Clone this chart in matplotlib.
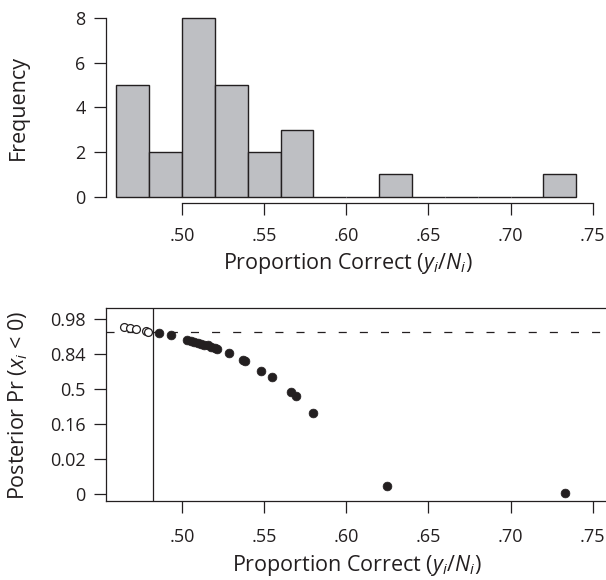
import numpy as np
import matplotlib
matplotlib.use("Agg")
import matplotlib.pyplot as plt
from matplotlib.ticker import NullLocator, FixedLocator
from statistics import NormalDist

# ---------------- data ----------------
proportion = [0.4644, 0.4684, 0.4721, 0.4782, 0.4792, 0.4861, 0.4932,
              0.5028, 0.5052, 0.5072, 0.5095, 0.5115, 0.5135, 0.5155, 0.5178,
              0.5203, 0.5210, 0.5287, 0.5371, 0.5385,
              0.5482, 0.5550, 0.5665, 0.5693, 0.5797, 0.6248, 0.7329]
posterior = [0.9633, 0.9591, 0.9573, 0.9525, 0.9505, 0.9474, 0.9382,
             0.9222, 0.9162, 0.9131, 0.9082, 0.9032, 0.8980, 0.8944, 0.8869,
             0.8790, 0.8749, 0.8485, 0.7995, 0.7881,
             0.6950, 0.6331, 0.4681, 0.4247, 0.2451, 0.00272, 0.00139]
bin_edges = [0.46, 0.48, 0.50, 0.52, 0.54, 0.56, 0.58, 0.60,
             0.62, 0.64, 0.66, 0.68, 0.70, 0.72, 0.74]
x_ticks = [0.50, 0.55, 0.60, 0.65, 0.70, 0.75]
x_ticklabels = [".50", ".55", ".60", ".65", ".70", ".75"]
freq_ticks = [0, 2, 4, 6, 8]
post_ticks = [0.00135, 0.02275, 0.15866, 0.5, 0.84134, 0.97725]
post_ticklabels = ["0", "0.02", "0.16", "0.5", "0.84", "0.98"]
criterion = 0.95
cutoff_x = 0.4825

# ---------------- style ----------------
plt.rcParams["font.family"] = ["Open Sans", "DejaVu Sans"]
plt.rcParams["mathtext.fontset"] = "custom"
plt.rcParams["mathtext.rm"] = "Open Sans"
plt.rcParams["mathtext.it"] = "Open Sans:italic"
plt.rcParams["lines.scale_dashes"] = False
INK = "#231f20"
FS = 13
LFS = 15.5

_nd = NormalDist()


def probit(p):
    p = np.clip(np.asarray(p, dtype=float), 1e-15, 1 - 1e-15)
    if p.size == 0:
        return p
    return np.vectorize(_nd.inv_cdf, otypes=[float])(p)


def inv_probit(z):
    z = np.asarray(z, dtype=float)
    if z.size == 0:
        return z
    return np.vectorize(_nd.cdf, otypes=[float])(z)


W, H = 606, 580
fig = plt.figure(figsize=(W / 100, H / 100), dpi=100)


def rect(l, t, r, b):
    return [l / W, 1 - b / H, (r - l) / W, (b - t) / H]


# ---------------- top: histogram ----------------
ax1 = fig.add_axes(rect(106, 10, 606, 203))
ax1.hist(proportion, bins=bin_edges, color="#bebfc3", edgecolor=INK, linewidth=1.0)
ax1.set_xlim(0.4537, 0.7581)
ax1.set_ylim(-0.283, 8.372)
for s in ("top", "right"):
    ax1.spines[s].set_visible(False)
ax1.spines["left"].set_bounds(0, 8)
ax1.spines["bottom"].set_bounds(0.50, 0.75)
for s in ("left", "bottom"):
    ax1.spines[s].set_color(INK)
    ax1.spines[s].set_linewidth(0.9)
ax1.set_xticks(x_ticks)
ax1.set_xticklabels(x_ticklabels)
ax1.set_yticks(freq_ticks)
ax1.tick_params(axis="both", direction="out", length=8.6, width=0.9, color=INK,
                labelsize=FS, labelcolor=INK)
ax1.tick_params(axis="x", pad=9)
ax1.tick_params(axis="y", pad=6)

# ---------------- bottom: posterior ----------------
ax2 = fig.add_axes(rect(106, 308.3, 606, 500.5))
ax2.set_yscale("function", functions=(probit, inv_probit))
ax2.set_xlim(0.4537, 0.7581)
ax2.set_ylim(float(inv_probit(-3.195)), float(inv_probit(2.315)))
ax2.yaxis.set_major_locator(FixedLocator(post_ticks))
ax2.yaxis.set_minor_locator(NullLocator())
ax2.set_yticklabels(post_ticklabels)
ax2.set_xticks(x_ticks)
ax2.set_xticklabels(x_ticklabels)
ax2.spines["right"].set_visible(False)
for s in ("top", "left", "bottom"):
    ax2.spines[s].set_color(INK)
    ax2.spines[s].set_linewidth(0.9)
ax2.tick_params(axis="both", direction="out", length=8.6, width=0.9, color=INK,
                labelsize=FS, labelcolor=INK)
ax2.tick_params(axis="x", pad=11)
ax2.tick_params(axis="y", pad=6)

px = np.array(proportion)
pp = np.array(posterior)
is_open = pp > criterion
ax2.axhline(criterion, color=INK, linewidth=0.9, dashes=(5.8, 9.4), zorder=1)
ax2.axvline(cutoff_x, color=INK, linewidth=0.9, zorder=1)
ax2.scatter(px[~is_open], pp[~is_open], s=40, color=INK, edgecolors=INK,
            linewidths=0.5, zorder=3, clip_on=False)
ax2.scatter(px[is_open], pp[is_open], s=32, facecolors="white", edgecolors=INK,
            linewidths=0.9, zorder=3)

# ---------------- labels ----------------
fig.text(18 / W, 1 - 107 / H, "Frequency", rotation=90, ha="center", va="center",
         fontsize=LFS, color=INK)
fig.text(18 / W, 1 - 405 / H, r"Posterior Pr ($x_i$ < 0)", rotation=90, ha="center",
         va="center", fontsize=LFS, color=INK)
fig.text(348 / W, 1 - 264 / H, r"Proportion Correct ($y_i$/$N_i$)", ha="center",
         va="center", fontsize=LFS, color=INK)
fig.text(357 / W, 1 - 566 / H, r"Proportion Correct ($y_i$/$N_i$)", ha="center",
         va="center", fontsize=LFS, color=INK)

fig.savefig("out.png", dpi=100)
